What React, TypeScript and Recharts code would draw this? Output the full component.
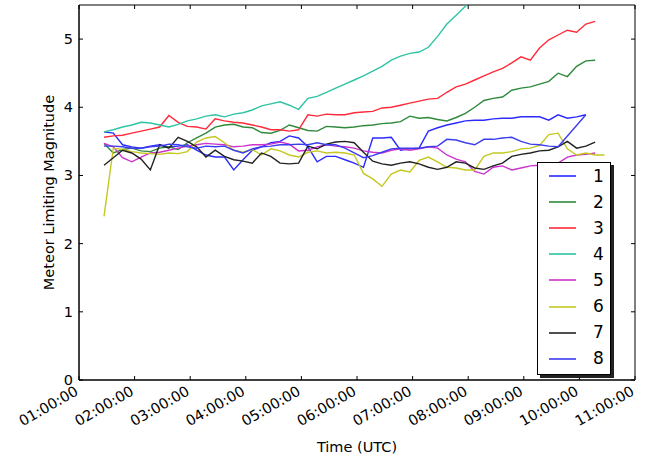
import React from 'react';
import { LineChart, Line, XAxis, YAxis, Legend, ReferenceArea, ReferenceLine } from 'recharts';

// Sample times (UTC), 10-minute cadence
const timeLabels = [
  '01:27','01:37','01:47','01:57','02:07','02:17','02:27','02:37','02:47','02:57',
  '03:07','03:17','03:27','03:37','03:47','03:57','04:07','04:17','04:27','04:37',
  '04:47','04:57','05:07','05:17','05:27','05:37','05:47','05:57','06:07','06:17',
  '06:27','06:37','06:47','06:57','07:07','07:17','07:27','07:37','07:47','07:57',
  '08:07','08:17','08:27','08:37','08:47','08:57','09:07','09:17','09:27','09:37',
  '09:47','09:57','10:07','10:17','10:27',
];

const s1 = [3.64,3.62,3.45,3.42,3.40,3.43,3.45,3.42,3.43,3.45, 3.37,3.30,3.27,3.27,3.08,3.23,3.37,3.42,3.48,3.50,
  3.58,3.55,3.42,3.20,3.28,3.28,3.23,3.18,3.12,3.55, 3.55,3.56,3.37,3.39,3.40,3.65,3.70,3.74,3.77,3.80,
  3.81,3.81,3.83,3.84,3.84,3.86,3.86,3.86,3.81,3.89, 3.84,3.86,3.89];
const s2 = [3.47,3.33,3.38,3.40,3.36,3.35,3.40,3.42,3.38,3.48, 3.55,3.62,3.71,3.74,3.75,3.71,3.70,3.63,3.62,3.66,
  3.74,3.70,3.66,3.65,3.72,3.71,3.70,3.71,3.73,3.74, 3.76,3.77,3.79,3.87,3.84,3.85,3.82,3.80,3.85,3.91,
  4.00,4.10,4.13,4.15,4.25,4.28,4.30,4.34,4.38,4.50, 4.45,4.60,4.68,4.69];
const s3 = [3.56,3.58,3.59,3.62,3.65,3.68,3.71,3.88,3.78,3.72, 3.71,3.68,3.83,3.80,3.78,3.77,3.74,3.71,3.67,3.67,
  3.65,3.67,3.89,3.87,3.90,3.89,3.89,3.92,3.93,3.94, 3.99,4.00,4.03,4.06,4.09,4.12,4.13,4.22,4.30,4.34,
  4.40,4.46,4.52,4.57,4.65,4.74,4.69,4.87,4.99,5.06, 5.13,5.10,5.22,5.26];
const s4 = [3.64,3.67,3.71,3.74,3.78,3.77,3.74,3.71,3.75,3.80, 3.83,3.87,3.89,3.86,3.90,3.92,3.96,4.02,4.05,4.08,
  4.03,3.97,4.13,4.16,4.22,4.28,4.34,4.40,4.46,4.53, 4.60,4.69,4.75,4.79,4.81,4.88,5.04,5.22,5.35,5.48,
  5.62,5.75];
const s5 = [3.47,3.42,3.26,3.20,3.27,3.33,3.34,3.37,3.40,3.43, 3.45,3.47,3.46,3.45,3.42,3.43,3.45,3.45,3.46,3.49,
  3.46,3.36,3.37,3.42,3.45,3.43,3.42,3.40,3.36,3.34, 3.33,3.37,3.39,3.37,3.39,3.42,3.40,3.30,3.24,3.20,
  3.06,3.02,3.12,3.14,3.08,3.11,3.14,3.15,3.17,3.18, 3.27,3.30,3.31,3.33];
const s6 = [2.40,3.40,3.38,3.35,3.33,3.32,3.31,3.33,3.32,3.35, 3.49,3.55,3.57,3.48,3.37,3.34,3.38,3.30,3.39,3.36,
  3.30,3.27,3.34,3.36,3.33,3.34,3.33,3.30,3.03,2.95, 2.84,3.02,3.08,3.05,3.22,3.27,3.20,3.12,3.11,3.08,
  3.08,3.28,3.33,3.33,3.35,3.39,3.40,3.44,3.60,3.62, 3.39,3.30,3.33,3.30,3.30];
const s7 = [3.15,3.26,3.37,3.33,3.24,3.08,3.45,3.40,3.56,3.50, 3.42,3.27,3.37,3.28,3.23,3.21,3.18,3.33,3.28,3.18,
  3.17,3.18,3.43,3.39,3.46,3.49,3.50,3.48,3.34,3.21, 3.17,3.15,3.18,3.20,3.17,3.12,3.09,3.12,3.20,3.18,
  3.11,3.09,3.14,3.18,3.28,3.31,3.33,3.36,3.37,3.42, 3.50,3.40,3.43,3.49];
const s8 = [3.43,3.43,3.42,3.40,3.40,3.42,3.43,3.46,3.45,3.42, 3.40,3.43,3.42,3.43,3.37,3.33,3.39,3.42,3.43,3.45,
  3.45,3.46,3.45,3.48,3.45,3.45,3.40,3.33,3.26,3.29, 3.34,3.39,3.40,3.40,3.40,3.42,3.43,3.53,3.52,3.48,
  3.45,3.53,3.53,3.55,3.56,3.50,3.46,3.45,3.43,3.42, null,null,3.89];

const seriesNames = ['1','2','3','4','5','6','7','8'];
const seriesValues = [s1, s2, s3, s4, s5, s6, s7, s8];
const seriesColors = ['#2b2bff','#2f8a3c','#ff2a3a','#2ec4a4','#cc33cc','#c4c820','#222222','#3d3df0'];

const xTicks = [1,2,3,4,5,6,7,8,9,10,11];
const yTicks = [0,1,2,3,4,5];
const X_MIN = 1, X_MAX = 11, Y_MIN = 0, Y_MAX = 5.5;
// inward tick length expressed in axis units (approx 4px)
const X_TICK_LEN = 0.072;
const Y_TICK_LEN = 0.059;

const toHours = (s: string) => {
  const [h, m] = s.split(':').map(Number);
  return h + m / 60;
};

const data = timeLabels.map((lbl, i) => {
  const row: Record<string, number | null> = { t: toHours(lbl) };
  seriesValues.forEach((arr, k) => {
    if (i < arr.length) row['s' + (k + 1)] = arr[i];
  });
  return row;
});

const FONT = 'DejaVu Sans';
const pad = (n: number) => (n < 10 ? '0' + n : '' + n);
const fmtTime = (h: number) => `${pad(h)}:00:00`;

const XTick = (props: any) => {
  const { x, y, payload } = props;
  const tx = x - 5;
  const ty = y + 5;
  return (
    <g>
      <line x1={x} y1={y} x2={x} y2={y - 4} stroke="#000" strokeWidth={1} />
      <text x={tx} y={ty} transform={`rotate(-30, ${tx}, ${ty})`} textAnchor="end"
        dominantBaseline="hanging" fontFamily={FONT} fontSize={14.5} fill="#000">
        {fmtTime(payload.value)}
      </text>
    </g>
  );
};

const YTick = (props: any) => {
  const { x, y, payload } = props;
  return (
    <g>
      <line x1={x} y1={y} x2={x + 4} y2={y} stroke="#000" strokeWidth={1} />
      <text x={x - 6} y={y} textAnchor="end" dominantBaseline="central"
        fontFamily={FONT} fontSize={14.5} fill="#000">
        {payload.value}
      </text>
    </g>
  );
};

const YLabel = (props: any) => {
  const vb = props.viewBox;
  const cx = 49;
  const cy = vb.y + vb.height / 2;
  return (
    <text x={cx} y={cy} transform={`rotate(-90, ${cx}, ${cy})`} textAnchor="middle"
      dominantBaseline="central" fontFamily={FONT} fontSize={14.5} fill="#000">
      Meteor Limiting Magnitude
    </text>
  );
};

const XLabel = (props: any) => {
  const vb = props.viewBox;
  return (
    <text x={vb.x + vb.width / 2} y={447} textAnchor="middle" dominantBaseline="central"
      fontFamily={FONT} fontSize={14.5} fill="#000">
      Time (UTC)
    </text>
  );
};

const LegendBox = (props: any) => {
  const { payload } = props;
  return (
    <div style={{
      width: 74, height: 213, boxSizing: 'border-box', border: '1.5px solid #000',
      background: '#fff', boxShadow: '3px 3px 0 #222', paddingTop: 0,
    }}>
      {(payload || []).filter((p: any) => p.type !== 'none').map((p: any) => (
        <div key={p.value} style={{ height: 26.1, display: 'flex', alignItems: 'center' }}>
          <svg width={50} height={10} style={{ display: 'block' }}>
            <line x1={11} y1={5} x2={38} y2={5} stroke={p.color} strokeWidth={1.6} />
          </svg>
          <span style={{ fontFamily: FONT, fontSize: 17, color: '#000', lineHeight: '17px', marginLeft: 5 }}>
            {p.value}
          </span>
        </div>
      ))}
    </div>
  );
};

export default function App() {
  return (
    <div style={{ position: 'absolute', left: 0, top: 0, width: 651, height: 459, background: '#fff' }}>
      <LineChart width={651} height={459} data={data} margin={{ top: 5, right: 16, bottom: 0, left: 0 }}>
        <XAxis dataKey="t" type="number" domain={[X_MIN, X_MAX]} ticks={xTicks} allowDataOverflow
          height={79} tickSize={0} tickMargin={0} tickLine={false} interval={0}
          axisLine={{ stroke: '#000', strokeWidth: 1 }} tick={<XTick />} label={<XLabel />} />
        <YAxis type="number" domain={[Y_MIN, Y_MAX]} ticks={yTicks} allowDataOverflow width={79}
          tickSize={0} tickMargin={0} tickLine={false} interval={0}
          axisLine={{ stroke: '#000', strokeWidth: 1 }} tick={<YTick />} label={<YLabel />} />
        {seriesNames.map((name, k) => (
          <Line key={name} type="linear" dataKey={'s' + (k + 1)} name={name} stroke={seriesColors[k]}
            strokeWidth={1.4} dot={false} activeDot={false} isAnimationActive={false}
            connectNulls={k === 7} />
        ))}
        <ReferenceArea x1={X_MIN} x2={X_MAX} y1={Y_MIN} y2={Y_MAX} stroke="#000" strokeWidth={1}
          fill="none" fillOpacity={0} ifOverflow="visible" />
        {xTicks.map((t) => (
          <ReferenceLine key={'tx' + t} segment={[{ x: t, y: Y_MAX }, { x: t, y: Y_MAX - Y_TICK_LEN }]}
            stroke="#000" strokeWidth={1} ifOverflow="visible" />
        ))}
        {yTicks.map((v) => (
          <ReferenceLine key={'ty' + v} segment={[{ x: X_MAX, y: v }, { x: X_MAX - X_TICK_LEN, y: v }]}
            stroke="#000" strokeWidth={1} ifOverflow="visible" />
        ))}
        <Legend layout="vertical" align="center" verticalAlign="middle" content={<LegendBox />}
          wrapperStyle={{ left: 537, top: 162, width: 74, height: 213 }} />
      </LineChart>
    </div>
  );
}
